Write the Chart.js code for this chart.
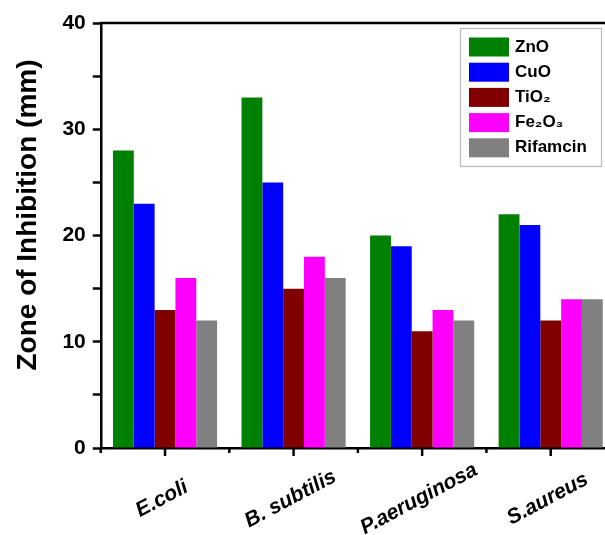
<!DOCTYPE html>
<html>
<head>
<meta charset="utf-8">
<script src="https://cdn.jsdelivr.net/npm/chart.js@4"></script>
<style>
  html, body { margin: 0; padding: 0; background: #fff; overflow: hidden; }
  #wrap { width: 618px; height: 535px; }
</style>
</head>
<body>
<div id="wrap"><canvas id="zoneChart" width="618" height="535"></canvas></div>
<script>
const categories = ['E.coli', 'B. subtilis', 'P.aeruginosa', 'S.aureus'];
const seriesNames = ['ZnO', 'CuO', 'TiO₂', 'Fe₂O₃', 'Rifamcin'];
const seriesColors = ['#008000', '#0000ff', '#800000', '#ff00ff', '#808080'];
const znoValues = [28, 33, 20, 22];
const cuoValues = [23, 25, 19, 21];
const tio2Values = [13, 15, 11, 12];
const fe2o3Values = [16, 18, 13, 14];
const rifamcinValues = [12, 16, 12, 14];
const yTicks = [0, 10, 20, 30, 40];

const seriesValues = [znoValues, cuoValues, tio2Values, fe2o3Values, rifamcinValues];

const FONT = '"Liberation Sans", Arial, sans-serif';

// frame line on top, x tick marks, rotated category labels, y title, legend box
const decorations = {
    id: 'decorations',
    afterDraw(chart) {
        const ctx = chart.ctx;
        const area = chart.chartArea;
        const x = chart.scales.x;
        ctx.save();
        ctx.strokeStyle = '#000';
        ctx.lineWidth = 2.5;
        ctx.beginPath();
        ctx.moveTo(area.left - 1, area.top);
        ctx.lineTo(area.right, area.top);
        ctx.stroke();

        // x ticks: long ones at category centres, short ones between
        const step = x.getPixelForTick(1) - x.getPixelForTick(0);
        for (let i = 0; i < categories.length; i++) {
            const cx = x.getPixelForTick(i);
            ctx.beginPath();
            ctx.moveTo(cx, area.bottom);
            ctx.lineTo(cx, area.bottom + 8);
            ctx.stroke();
            const bx = cx - step / 2;
            ctx.beginPath();
            ctx.moveTo(bx, area.bottom);
            ctx.lineTo(bx, area.bottom + 5);
            ctx.stroke();
        }

        ctx.fillStyle = '#000';
        ctx.font = 'italic bold 21px ' + FONT;
        ctx.textAlign = 'center';
        ctx.textBaseline = 'middle';
        categories.forEach((name, i) => {
            ctx.save();
            ctx.translate(x.getPixelForTick(i) - 3, area.bottom + 51);
            ctx.rotate(-28 * Math.PI / 180);
            ctx.fillText(name, 0, 0);
            ctx.restore();
        });

        ctx.save();
        ctx.font = 'bold 28px ' + FONT;
        ctx.translate(28, 215);
        ctx.rotate(-Math.PI / 2);
        ctx.fillText('Zone of Inhibition (mm)', 0, 0);
        ctx.restore();

        // legend
        ctx.strokeStyle = '#bbb';
        ctx.lineWidth = 1.2;
        ctx.strokeRect(460.5, 28.5, 141, 138);
        ctx.font = 'bold 17px ' + FONT;
        ctx.textAlign = 'left';
        seriesNames.forEach((name, i) => {
            const cy = 47 + i * 25.2;
            ctx.fillStyle = seriesColors[i];
            ctx.fillRect(469, cy - 9.5, 40, 19);
            ctx.fillStyle = '#000';
            ctx.fillText(name, 515, cy);
        });
        ctx.restore();
    }
};

const chart = new Chart(document.getElementById('zoneChart').getContext('2d'), {
    type: 'bar',
    data: {
        labels: categories,
        datasets: seriesNames.map((name, i) => ({
            label: name,
            data: seriesValues[i],
            backgroundColor: seriesColors[i],
            borderWidth: 0,
            barPercentage: 1,
            categoryPercentage: 0.81
        }))
    },
    options: {
        responsive: false,
        animation: false,
        layout: { padding: { top: 23, right: 3, left: 0, bottom: 0 } },
        plugins: {
            legend: { display: false },
            tooltip: { enabled: false }
        },
        scales: {
            x: {
                grid: { display: false },
                border: { display: true, color: '#000', width: 2.5 },
                ticks: { display: false },
                afterFit: (scale) => { scale.height = 87; }
            },
            y: {
                min: 0,
                max: 40,
                afterFit: (scale) => { scale.width = 100.75; },
                afterBuildTicks: (scale) => {
                    const t = [];
                    for (let v = 0; v <= 40; v += 5) t.push({ value: v });
                    scale.ticks = t;
                },
                grid: {
                    drawOnChartArea: false,
                    drawTicks: true,
                    tickLength: 8,
                    tickWidth: 2.5,
                    tickColor: '#000'
                },
                border: { display: true, color: '#000', width: 2.5 },
                ticks: {
                    padding: 7,
                    color: '#000',
                    font: { family: FONT, size: 21, weight: 'bold' },
                    callback: (v) => yTicks.includes(v) ? String(v) : ''
                }
            }
        }
    },
    plugins: [decorations]
});
</script>
</body>
</html>
